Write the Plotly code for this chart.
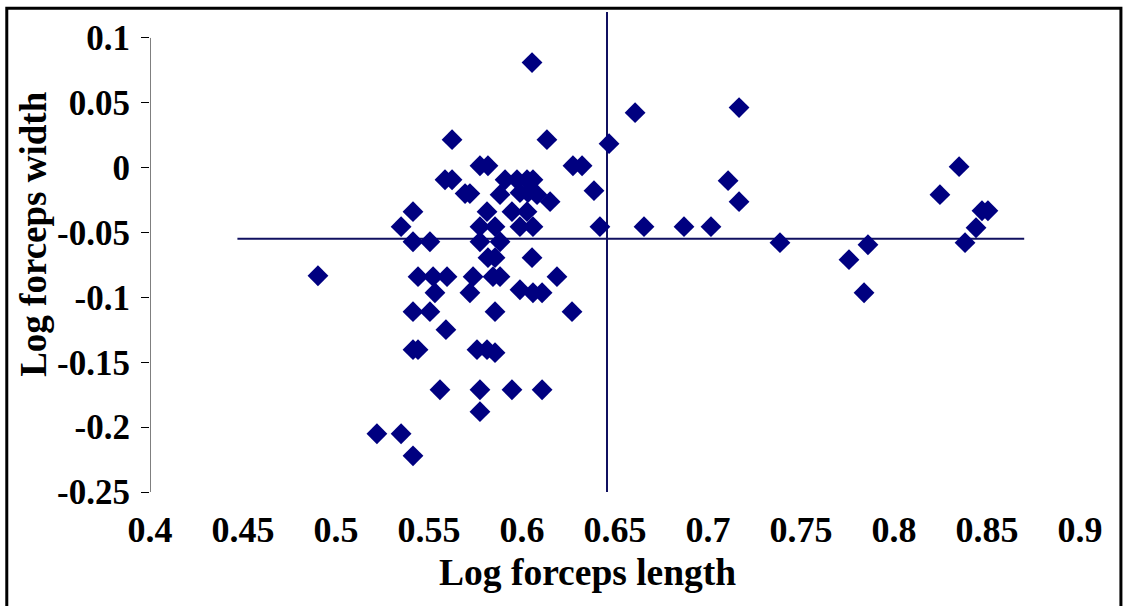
import plotly.graph_objects as go

# Data
log_length = [
    0.4903, 0.522, 0.535, 0.5414, 0.535, 0.5414, 0.5414, 0.5505, 0.5441, 0.5522,
    0.5597, 0.5532, 0.5414, 0.5505, 0.5591, 0.5414, 0.5441, 0.5559, 0.5586, 0.5624,
    0.5624, 0.5694, 0.572, 0.572, 0.5737, 0.5758, 0.5812, 0.5855, 0.5774, 0.5774,
    0.5946, 0.6108, 0.5855, 0.6269, 0.5774, 0.5817, 0.5909, 0.5973, 0.6027, 0.6059,
    0.5882, 0.5989, 0.6032, 0.6081, 0.6151, 0.5812, 0.5946, 0.6027, 0.5774, 0.5855,
    0.5989, 0.6059, 0.5774, 0.5882, 0.5817, 0.5855, 0.6054, 0.5844, 0.5882, 0.6188,
    0.5989, 0.6059, 0.6108, 0.6054, 0.6134, 0.6274, 0.6323, 0.6387, 0.6419, 0.6468,
    0.6608, 0.6656, 0.6871, 0.7016, 0.7108, 0.7167, 0.7167, 0.7387, 0.7758, 0.786,
    0.7839, 0.8247, 0.835, 0.8382, 0.8441, 0.8473, 0.8505,
]
log_width = [
    -0.0833, -0.2051, -0.2051, -0.2221, -0.0455, -0.0339, -0.0571, -0.0571, -0.084, -0.084,
    -0.084, -0.0964, -0.111, -0.111, -0.1249, -0.1403, -0.1403, -0.1712, -0.0093, -0.0093,
    0.0216, -0.02, -0.02, -0.0964, -0.084, -0.1403, -0.1403, -0.1426, -0.1712, -0.1881,
    -0.1712, -0.1712, -0.111, -0.111, 0.0015, 0.0015, -0.0093, -0.0093, -0.0093, -0.0093,
    -0.0208, -0.0193, -0.0193, -0.0208, -0.0262, -0.0339, -0.0339, -0.0339, -0.0455, -0.0455,
    -0.0455, -0.0455, -0.0571, -0.0571, -0.0694, -0.0694, -0.0694, -0.084, -0.084, -0.084,
    -0.0941, -0.0964, -0.0964, 0.081, 0.0216, 0.0015, 0.0015, -0.0177, -0.0455, 0.0185,
    0.0424, -0.0455, -0.0455, -0.0455, -0.01, 0.0463, -0.0262, -0.0578, -0.0709, -0.0594,
    -0.0964, -0.0208, 0.0008, -0.0578, -0.0463, -0.0332, -0.0332,
]

# Mean reference lines
mean_length = 0.6457
mean_width = -0.0547
hline_x = [0.447, 0.87]
vline_y = [-0.252, 0.12]

x_ticks = [0.4, 0.45, 0.5, 0.55, 0.6, 0.65, 0.7, 0.75, 0.8, 0.85, 0.9]
x_ticktext = ["0.4", "0.45", "0.5", "0.55", "0.6", "0.65", "0.7", "0.75", "0.8", "0.85", "0.9"]
y_ticks = [-0.25, -0.2, -0.15, -0.1, -0.05, 0, 0.05, 0.1]
y_ticktext = ["-0.25", "-0.2", "-0.15", "-0.1", "-0.05", "0", "0.05", "0.1"]

FONT = "Liberation Serif, Times New Roman, serif"
NAVY = "#000080"
LINE = "#101060"

fig = go.Figure()
fig.add_trace(go.Scatter(
    x=log_length, y=log_width, mode="markers",
    marker=dict(symbol="diamond", size=16, color=NAVY, line=dict(width=0)),
    showlegend=False, hoverinfo="x+y",
))

fig.add_shape(type="line", xref="x", yref="y", x0=hline_x[0], x1=hline_x[1],
              y0=mean_width, y1=mean_width, line=dict(color=LINE, width=2), layer="below")
fig.add_shape(type="line", xref="x", yref="y", x0=mean_length, x1=mean_length,
              y0=vline_y[0], y1=vline_y[1], line=dict(color=LINE, width=2), layer="below")
# y axis line (only across the tick span)
fig.add_shape(type="line", xref="x", yref="y", x0=x_ticks[0], x1=x_ticks[0],
              y0=y_ticks[0], y1=y_ticks[-1], line=dict(color="black", width=1))
# outer frame
fig.add_shape(type="rect", xref="paper", yref="paper", x0=-0.154, x1=1.044,
              y0=-0.3, y1=1.008, line=dict(color="black", width=3))

fig.add_annotation(text="Log forceps length", xref="paper", yref="paper",
                   x=0.47, y=-0.167, showarrow=False, xanchor="center", yanchor="middle",
                   font=dict(family=FONT, size=37.5, color="black", weight="bold"))
fig.add_annotation(text="Log forceps width", xref="paper", yref="paper",
                   x=-0.126, y=0.5375, showarrow=False, xanchor="center", yanchor="middle",
                   textangle=-90,
                   font=dict(family=FONT, size=37, color="black", weight="bold"))

fig.update_layout(
    width=1123, height=606,
    margin=dict(l=150, r=43, t=12, b=114),
    paper_bgcolor="white", plot_bgcolor="white",
    xaxis=dict(range=[0.4, 0.9], tickvals=x_ticks, ticktext=x_ticktext,
               showline=False, showgrid=False, zeroline=False, ticks="",
               ticklabelstandoff=13,
               tickfont=dict(family=FONT, size=36, color="black", weight="bold")),
    yaxis=dict(range=[-0.25, 0.12], tickvals=y_ticks, ticktext=y_ticktext,
               showline=False, showgrid=False, zeroline=False,
               ticks="outside", ticklen=8, tickwidth=1, tickcolor="black",
               ticklabelstandoff=4,
               tickfont=dict(family=FONT, size=35, color="black", weight="bold")),
)

fig.write_html("out.html", config={"displayModeBar": False},
               post_script="document.body.style.margin='0';document.body.style.overflow='hidden';")
